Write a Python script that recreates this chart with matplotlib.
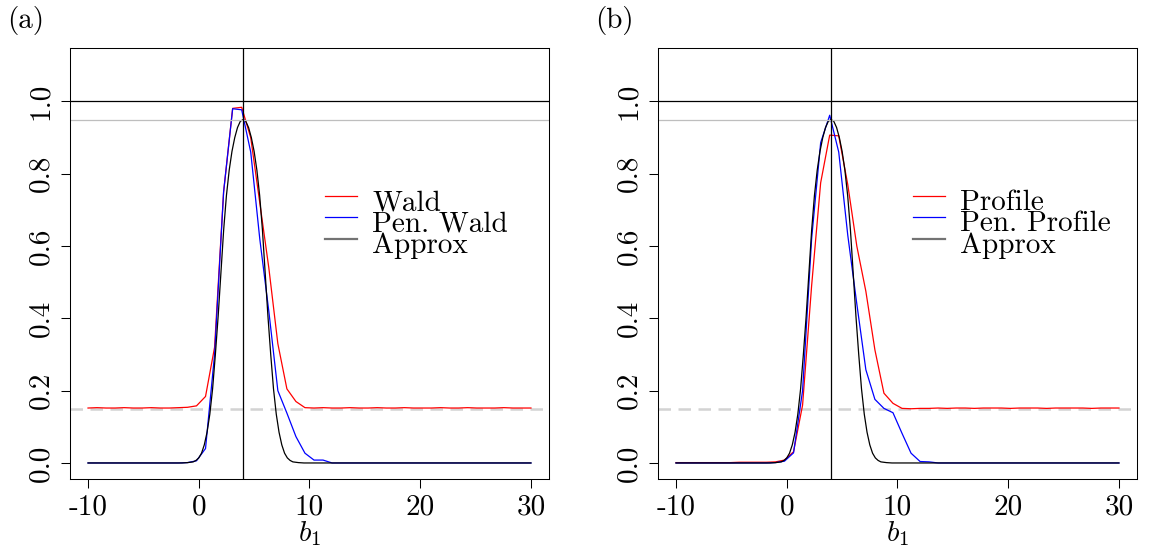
import matplotlib
matplotlib.use('Agg')
import matplotlib.pyplot as plt
import numpy as np

plt.rcParams['font.family'] = 'cmr10'
plt.rcParams['mathtext.fontset'] = 'cm'
plt.rcParams['axes.unicode_minus'] = False
plt.rcParams['axes.formatter.use_mathtext'] = True

# grid of true b1 values used in the simulation (50 points)
b1 = np.linspace(-10, 30, 50)

wald = [0.152, 0.153, 0.152, 0.152, 0.153, 0.152, 0.152, 0.153, 0.152, 0.152,
        0.153, 0.154, 0.158, 0.184, 0.32, 0.75, 0.981, 0.984, 0.90, 0.72,
        0.54, 0.33, 0.205, 0.17, 0.153, 0.152, 0.153, 0.152, 0.152, 0.153,
        0.152, 0.152, 0.153, 0.152, 0.152, 0.153, 0.152, 0.152, 0.152, 0.153,
        0.152, 0.152, 0.153, 0.152, 0.152, 0.152, 0.153, 0.152, 0.152, 0.152]
pen_wald = [0, 0, 0, 0, 0, 0, 0, 0, 0, 0,
            0, 0.001, 0.006, 0.04, 0.30, 0.75, 0.98, 0.977, 0.86, 0.62,
            0.42, 0.20, 0.138, 0.073, 0.027, 0.008, 0.008, 0, 0, 0,
            0, 0, 0, 0, 0, 0, 0, 0, 0, 0,
            0, 0, 0, 0, 0, 0, 0, 0, 0, 0]
profile = [0.001, 0.001, 0.001, 0.001, 0.001, 0.001, 0.001, 0.002, 0.002, 0.002,
           0.002, 0.003, 0.008, 0.031, 0.16, 0.49, 0.775, 0.907, 0.905, 0.77,
           0.60, 0.475, 0.313, 0.193, 0.165, 0.151, 0.150, 0.151, 0.151, 0.152,
           0.151, 0.152, 0.152, 0.151, 0.152, 0.152, 0.152, 0.151, 0.152, 0.152,
           0.152, 0.151, 0.152, 0.152, 0.152, 0.152, 0.151, 0.152, 0.152, 0.152]
pen_profile = [0, 0, 0, 0, 0, 0, 0, 0, 0, 0,
               0, 0.001, 0.005, 0.028, 0.20, 0.62, 0.886, 0.962, 0.86, 0.63,
               0.44, 0.258, 0.176, 0.151, 0.139, 0.082, 0.027, 0.004, 0.003, 0,
               0, 0, 0, 0, 0, 0, 0, 0, 0, 0,
               0, 0, 0, 0, 0, 0, 0, 0, 0, 0]

# approximate coverage curve (same in both panels)
approx_x = [-10, -1.5, -1.0, -0.5, -0.25, 0.0, 0.25, 0.5, 0.75, 1.0, 1.25, 1.5,
            1.75, 2.0, 2.25, 2.5, 2.75, 3.0, 3.25, 3.5, 3.75, 4.0, 4.25, 4.5,
            4.75, 5.0, 5.25, 5.5, 5.75, 6.0, 6.25, 6.5, 6.75, 7.0, 7.25, 7.5,
            7.75, 8.0, 8.25, 8.5, 9.0, 9.5, 30]
approx_y = [0, 0, 0.001, 0.003, 0.007, 0.014, 0.027, 0.05, 0.085, 0.135, 0.205, 0.30,
            0.405, 0.525, 0.645, 0.74, 0.81, 0.862, 0.90, 0.928, 0.945, 0.95, 0.945, 0.928,
            0.90, 0.862, 0.81, 0.74, 0.645, 0.525, 0.405, 0.30, 0.205, 0.135, 0.085, 0.05,
            0.027, 0.014, 0.007, 0.003, 0.001, 0, 0]

true_b1 = 4
nominal = 0.95
null_level = 0.15

xticks = [-10, 0, 10, 20, 30]
yticks = [0.0, 0.2, 0.4, 0.6, 0.8, 1.0]

FS = 21

fig = plt.figure(figsize=(11.6, 5.53), dpi=100)
ax_a = fig.add_axes([0.0606, 0.1347, 0.4124, 0.7785])
ax_b = fig.add_axes([0.5675, 0.1347, 0.4124, 0.7785])


def draw_panel(ax, red, blue, names, tag):
    ax.axhline(null_level, color='#D3D3D3', lw=1.8, dashes=(5, 3))
    ax.plot(b1, red, color='red', lw=0.9)
    ax.plot(b1, blue, color='blue', lw=0.9)
    ax.plot(approx_x, approx_y, color='black', lw=0.9)
    ax.axhline(1.0, color='black', lw=0.9)
    ax.axhline(nominal, color='#BEBEBE', lw=0.9)
    ax.axvline(true_b1, color='black', lw=0.9)

    ax.set_xlim(-11.6, 31.6)
    ax.set_ylim(-0.043, 1.148)
    ax.set_xticks(xticks)
    ax.set_xticklabels([str(t) for t in xticks], fontsize=FS)
    ax.set_yticks(yticks)
    ax.set_yticklabels(['%.1f' % t for t in yticks], fontsize=FS,
                       rotation=90, va='center')
    ax.tick_params(direction='out', length=6.5, width=0.75, pad=5)
    for s in ax.spines.values():
        s.set_linewidth(0.75)

    # legend drawn by hand, no box
    cols = ['red', 'blue', '0.45']
    lws = [0.9, 0.9, 1.6]
    rows = [0.656, 0.607, 0.556]
    for name, c, lw, yy in zip(names, cols, lws, rows):
        ax.plot([0.532, 0.599], [yy, yy], color=c, lw=lw, transform=ax.transAxes)
        ax.text(0.631, yy - 0.0325, name, fontsize=FS, va='baseline',
                transform=ax.transAxes)

    bb = ax.get_position()
    fig.text(bb.x0 + bb.width / 2, 0.021, r'$b_1$', fontsize=FS,
             ha='center', va='baseline')
    fig.text(bb.x0 - 0.0545, 0.949, tag, fontsize=FS, va='baseline')


draw_panel(ax_a, wald, pen_wald, ['Wald', 'Pen. Wald', 'Approx'], '(a)')
draw_panel(ax_b, profile, pen_profile, ['Profile', 'Pen. Profile', 'Approx'], '(b)')

fig.savefig('out.png', dpi=100)
